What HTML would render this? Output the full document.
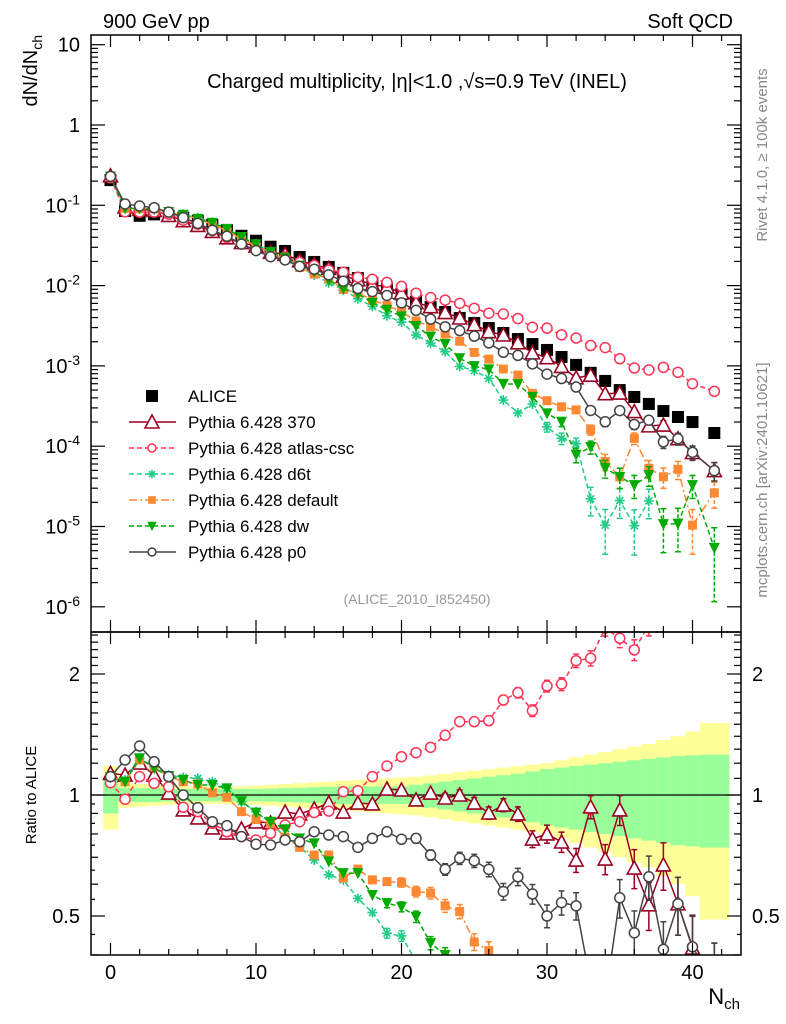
<!DOCTYPE html>
<html><head><meta charset="utf-8"><style>
html,body{margin:0;padding:0;background:#fff;width:786px;height:1024px;overflow:hidden;}
svg{display:block;font-family:"Liberation Sans",Arial,sans-serif;}
</style></head><body>
<svg id="chart" width="786" height="1024" viewBox="0 0 786 1024" xmlns="http://www.w3.org/2000/svg">
<defs>
<clipPath id="clipMain"><rect x="91" y="35" width="650" height="597"/></clipPath>
<clipPath id="clipRatio"><rect x="91" y="632" width="650" height="323"/></clipPath>
</defs>
<g id="bands" clip-path="url(#clipRatio)"></g>
<g id="gMain" clip-path="url(#clipMain)"></g>
<g id="gRatio" clip-path="url(#clipRatio)"></g>
<g id="axes"></g>
<text x="103" y="28" font-size="20">900 GeV pp</text>
<text x="733" y="28" font-size="20" text-anchor="end">Soft QCD</text>
<text x="417" y="88" font-size="20" text-anchor="middle">Charged multiplicity, |η|&lt;1.0 ,√s=0.9 TeV (INEL)</text>
<text x="417" y="604" font-size="14" fill="#999" text-anchor="middle">(ALICE_2010_I852450)</text>
<text transform="translate(767,155) rotate(-90)" font-size="15" fill="#888" text-anchor="middle">Rivet 4.1.0, ≥ 100k events</text>
<text transform="translate(767,480) rotate(-90)" font-size="15" fill="#888" text-anchor="middle">mcplots.cern.ch [arXiv:2401.10621]</text>
<text transform="translate(37,35) rotate(-90)" font-size="20" text-anchor="end">dN/dN<tspan font-size="14" dy="5">ch</tspan></text>
<text transform="translate(36,795) rotate(-90)" font-size="15" text-anchor="middle">Ratio to ALICE</text>
<text x="740" y="1004" font-size="22" text-anchor="end">N<tspan font-size="15" dy="5">ch</tspan></text>
<g id="legend"></g>
</svg>
<script>
const nch = [0,1,2,3,4,5,6,7,8,9,10,11,12,13,14,15,16,17,18,19,20,21,22,23,24,25,26,27,28,29,30,31,32,33,34,35,36,37,38,39,40,41.5];
const aliceVals = [0.206,0.085,0.074,0.077,0.074,0.070,0.064,0.057,0.049,0.0417,0.0362,0.0305,0.027,0.0227,0.0197,0.0171,0.0144,0.0124,0.0108,0.0093,0.00786,0.0063,0.0054,0.00469,0.00395,0.00342,0.00296,0.00257,0.00216,0.00187,0.00158,0.00129,0.00103,0.00082,0.00065,0.0005,0.00041,0.000336,0.000274,0.000231,0.0002,0.000146];
const ratio370 = [1.132,1.121,1.201,1.121,1.011,0.918,0.877,0.828,0.804,0.823,0.857,0.852,0.907,0.897,0.923,0.955,0.907,0.955,0.950,1.035,1.029,0.972,1.011,0.983,1.0,0.955,0.902,0.944,0.897,0.777,0.800,0.764,0.689,0.934,0.693,0.918,0.658,0.533,0.670,0.536,0.416,0.34];
const ratioAtlas = [1.073,0.976,1.111,1.069,1.048,0.932,0.909,0.850,0.810,0.788,0.773,0.803,0.842,0.858,0.904,0.912,1.019,1.025,1.111,1.181,1.245,1.274,1.314,1.408,1.522,1.522,1.531,1.723,1.797,1.621,1.867,1.888,2.158,2.189,2.6,2.454,2.296,2.65,3.5,3.6,3.0,3.3];
const ratioD6t = [1.111,1.090,1.234,1.176,1.121,1.106,1.100,1.079,1.039,0.962,0.909,0.850,0.788,0.744,0.689,0.633,0.615,0.553,0.510,0.453,0.446,0.385,0.353,0.32,0.25,0.255,0.236,0.146,0.12,0.179,0.11,0.097,0.104,0.027,0.016,0.042,0.025,0.062,null,null,null,null];
const ratioDefault = [1.111,1.079,1.222,1.176,1.111,1.079,1.065,1.013,0.987,0.909,0.869,0.850,0.785,0.741,0.709,0.709,0.622,0.654,0.615,0.609,0.606,0.575,0.57,0.530,0.513,0.431,0.41,0.356,0.356,0.243,0.233,0.24,0.275,0.195,0.099,0.083,0.306,0.158,0.152,0.223,0.052,0.18];
const ratioDw = [1.107,1.079,1.234,1.165,1.115,1.090,1.059,1.059,1.039,0.965,0.904,0.858,0.822,0.780,0.758,0.683,0.639,0.639,0.564,0.538,0.527,0.498,0.428,0.40,0.315,0.291,0.306,0.232,0.275,0.22,0.162,0.156,0.076,0.119,0.082,0.083,0.08,0.13,0.039,0.047,0.164,0.037];
const ratioP0 = [1.111,1.222,1.324,1.210,1.111,1.0,0.930,0.858,0.839,0.788,0.754,0.751,0.773,0.765,0.810,0.795,0.788,0.741,0.780,0.810,0.776,0.780,0.709,0.653,0.696,0.686,0.653,0.575,0.626,0.567,0.500,0.540,0.530,0.34,0.31,0.555,0.454,0.626,0.413,0.536,0.419,0.34];
const bandTotal = [0.18,0.07,0.065,0.06,0.055,0.05,0.05,0.05,0.05,0.05,0.055,0.06,0.065,0.07,0.075,0.08,0.085,0.09,0.095,0.10,0.105,0.11,0.12,0.13,0.14,0.15,0.16,0.17,0.18,0.19,0.20,0.22,0.24,0.26,0.28,0.30,0.32,0.34,0.37,0.40,0.44,0.51];
const bandStat = [0.10,0.04,0.04,0.04,0.035,0.035,0.035,0.035,0.035,0.035,0.035,0.037,0.04,0.042,0.045,0.048,0.05,0.05,0.05,0.05,0.05,0.06,0.07,0.08,0.09,0.10,0.11,0.12,0.13,0.145,0.16,0.17,0.18,0.19,0.20,0.21,0.22,0.23,0.24,0.25,0.255,0.26];
const binLo = [-0.5,0.5,1.5,2.5,3.5,4.5,5.5,6.5,7.5,8.5,9.5,10.5,11.5,12.5,13.5,14.5,15.5,16.5,17.5,18.5,19.5,20.5,21.5,22.5,23.5,24.5,25.5,26.5,27.5,28.5,29.5,30.5,31.5,32.5,33.5,34.5,35.5,36.5,37.5,38.5,39.5,40.5];
const binHi = [0.5,1.5,2.5,3.5,4.5,5.5,6.5,7.5,8.5,9.5,10.5,11.5,12.5,13.5,14.5,15.5,16.5,17.5,18.5,19.5,20.5,21.5,22.5,23.5,24.5,25.5,26.5,27.5,28.5,29.5,30.5,31.5,32.5,33.5,34.5,35.5,36.5,37.5,38.5,39.5,40.5,42.5];
const xTicks = [0,10,20,30,40];
const mainTickExp = [-6,-5,-4,-3,-2,-1,0,1];
const ratioMajor = [0.5,1,2];
const nEvents = 300000;

const NS='http://www.w3.org/2000/svg';
const clamp=(v,a,b)=>Math.max(a,Math.min(b,v));
const X = n => 110.5 + 14.55*n;
const YM = v => clamp(125 - 80.3*Math.log10(v), 20, 660);
const YR = r => clamp(795 - 121*Math.log2(r), 610, 1000);
function mk(tag, attrs, parent){const e=document.createElementNS(NS,tag);for(const k in attrs)e.setAttribute(k,attrs[k]);if(parent)parent.appendChild(e);return e;}

const series = [
 {key:'370', label:'Pythia 6.428 370', r:ratio370, color:'#990022', dash:'', marker:'triUp'},
 {key:'atlas-csc', label:'Pythia 6.428 atlas-csc', r:ratioAtlas, color:'#ff3355', dash:'5,3', marker:'circ'},
 {key:'d6t', label:'Pythia 6.428 d6t', r:ratioD6t, color:'#22cc88', dash:'5,3', marker:'star'},
 {key:'default', label:'Pythia 6.428 default', r:ratioDefault, color:'#ff8833', dash:'8,3,2,3', marker:'sq'},
 {key:'dw', label:'Pythia 6.428 dw', r:ratioDw, color:'#00aa00', dash:'5,3', marker:'triDn'},
 {key:'p0', label:'Pythia 6.428 p0', r:ratioP0, color:'#444444', dash:'', marker:'circ'}
];

function marker(g, type, x, y, c, s){
  let e;
  if(type==='triUp'){e=mk('polygon',{points:`${x},${y-7*s} ${x-7*s},${y+6*s} ${x+7*s},${y+6*s}`,fill:'#fff',stroke:c,'stroke-width':1.6},g);}
  else if(type==='circ'){e=mk('circle',{cx:x,cy:y,r:5*s,fill:'#fff',stroke:c,'stroke-width':1.5},g);}
  else if(type==='sq'){e=mk('rect',{x:x-4.5*s,y:y-4.5*s,width:9*s,height:9*s,fill:c},g);}
  else if(type==='triDn'){e=mk('polygon',{points:`${x-5.5*s},${y-5*s} ${x+5.5*s},${y-5*s} ${x},${y+6*s}`,fill:c},g);}
  else if(type==='star'){e=mk('g',{stroke:c,'stroke-width':1.6},g);const a=5*s;
    mk('line',{x1:x-a,y1:y,x2:x+a,y2:y},e);mk('line',{x1:x,y1:y-a,x2:x,y2:y+a},e);
    mk('line',{x1:x-a*.7,y1:y-a*.7,x2:x+a*.7,y2:y+a*.7},e);mk('line',{x1:x-a*.7,y1:y+a*.7,x2:x+a*.7,y2:y-a*.7},e);}
  else if(type==='alice'){e=mk('rect',{x:x-6,y:y-6,width:12,height:12,fill:'#000'},g);}
  return e;
}

const gB=document.getElementById('bands');
for(let i=0;i<nch.length;i++){
  const y1=mk('rect',{x:X(binLo[i]),y:YR(1+bandTotal[i]),width:X(binHi[i])-X(binLo[i])+0.5,height:YR(1-bandTotal[i])-YR(1+bandTotal[i]),fill:'#ffff99'},gB);
  
  
  const g1=mk('rect',{x:X(binLo[i]),y:YR(1+bandStat[i]),width:X(binHi[i])-X(binLo[i])+0.5,height:YR(1-bandStat[i])-YR(1+bandStat[i]),fill:'#99ff99'},gB);
  
  
}
const gR=document.getElementById('gRatio');
mk('line',{x1:91,y1:795,x2:741,y2:795,stroke:'#000','stroke-width':1.3},gR);

const gM=document.getElementById('gMain');
function drawSeries(g, vals, errs, Y, s, isMain, yMax){
  const grp=mk('g',{},g);
  
  
  let d='';let pen=false;
  for(let i=0;i<nch.length;i++){
    if(vals[i]==null||vals[i]<=0){pen=false;continue;}
    d+=(pen?'L':'M')+X(nch[i]).toFixed(1)+','+Y(vals[i]).toFixed(1);pen=true;
  }
  mk('path',{d:d,fill:'none',stroke:s.color,'stroke-width':1.5,'stroke-dasharray':s.dash},grp);
  for(let i=0;i<nch.length;i++){
    if(vals[i]==null||vals[i]<=0)continue;
    const x=X(nch[i]), v=vals[i], e=errs[i];
    const yt=Y(v*(1+e)), yb=(1-e)>0.001?Y(v*(1-e)):yMax;
    if(yb-yt>9){
      mk('line',{x1:x,y1:yt,x2:x,y2:yb,stroke:s.color,'stroke-width':1.5,'stroke-dasharray':s.dash?'4,2':''},grp);
      mk('line',{x1:x-3,y1:yt,x2:x+3,y2:yt,stroke:s.color,'stroke-width':1.5},grp);
      mk('line',{x1:x-3,y1:yb,x2:x+3,y2:yb,stroke:s.color,'stroke-width':1.5},grp);
    }
    const m=marker(grp,s.marker,x,Y(v),s.color,1);
    
    
  }
}
const ga=mk('g',{},gM);


for(let i=0;i<nch.length;i++){
  const m=marker(ga,'alice',X(nch[i]),YM(aliceVals[i]),'#000',1);
  
  
}
series.forEach(s=>{
  const mv=s.r.map((r,i)=>r==null?null:r*aliceVals[i]);
  const errs=mv.map(v=>v==null?0:1/Math.sqrt(v*nEvents));
  drawSeries(gM,mv,errs,YM,s,true,640);
  drawSeries(gR,s.r,errs,YR,s,false,960);
});

const gA=document.getElementById('axes');
function line(x1,y1,x2,y2,w){mk('line',{x1,y1,x2,y2,stroke:'#000','stroke-width':w||1.3},gA);}
function txt(x,y,t,anchor,size){const e=mk('text',{x,y,'font-size':size||20,'text-anchor':anchor||'middle'},gA);e.textContent=t;return e;}
mk('rect',{x:91,y:35,width:650,height:597,fill:'none',stroke:'#000','stroke-width':1.5},gA);
mk('rect',{x:91,y:632,width:650,height:323,fill:'none',stroke:'#000','stroke-width':1.5},gA);
for(let n=0;n<=42;n+=2){
  const x=X(n), L=(n%10===0)?12:6;
  [[35,1],[632,-1],[632,1],[955,-1]].forEach(([y,dir])=>line(x,y,x,y+dir*L,1.2));
}
xTicks.forEach(n=>{const e=txt(X(n),979,String(n),'middle',20);});
const YMr = v => 125 - 80.3*Math.log10(v);
const YRr = r => 795 - 121*Math.log2(r);
mainTickExp.forEach(p=>{
  for(let k=1;k<=9;k++){
    const v=k*Math.pow(10,p);const y=YMr(v);
    if(y<35||y>632)continue;
    const L=k===1?14:7;
    line(91,y,91+L,y,1.2);line(741,y,741-L,y,1.2);
  }
  const y=YMr(Math.pow(10,p));
  if(y>=35&&y<=632){
    let e;
    if(p===0) e=txt(80,y+7,'1','end',20);
    else if(p===1) e=txt(80,y+7,'10','end',20);
    else {e=mk('text',{x:80,y:y+7,'font-size':20,'text-anchor':'end'},gA);
      e.appendChild(document.createTextNode('10'));
      const ts=mk('tspan',{'font-size':14,dy:-8},e);ts.textContent=String(p);}
    
    
  }
});
const ratioMinor=[0.4,0.45,0.5,0.55,0.6,0.65,0.7,0.75,0.8,0.85,0.9,0.95,1,1.1,1.2,1.3,1.4,1.5,1.6,1.7,1.8,1.9,2,2.1,2.2,2.3,2.4,2.5];
ratioMinor.forEach(r=>{const y=YRr(r);if(y<632||y>955)return;const maj=ratioMajor.includes(r);const L=maj?14:(Math.round(r*10)===r*10?7:4);line(91,y,91+L,y,1.2);line(741,y,741-L,y,1.2);});
ratioMajor.forEach(r=>{const y=YRr(r)+7;
  const a=txt(80,y,String(r),'end',20);
  const b=txt(752,y,String(r),'start',20);});

const gL=document.getElementById('legend');
const legY=[396,422,448,474,500,526,552];
const e0=mk('g',{},gL);


marker(e0,'alice',152,legY[0],'#000',1);
const t0=mk('text',{x:188,y:legY[0]+6,'font-size':17},e0);t0.textContent='ALICE';
series.forEach((s,i)=>{
  const y=legY[i+1];
  const e=mk('g',{},gL);
  
  
  mk('line',{x1:129,y1:y,x2:176,y2:y,stroke:s.color,'stroke-width':1.5,'stroke-dasharray':s.dash},e);
  marker(e,s.marker,152,y,s.color,s.marker==='circ'?0.8:(s.marker==='triUp'?1:0.85));
  const t=mk('text',{x:188,y:y+6,'font-size':17},e);t.textContent=s.label;
});
</script>
</body></html>
